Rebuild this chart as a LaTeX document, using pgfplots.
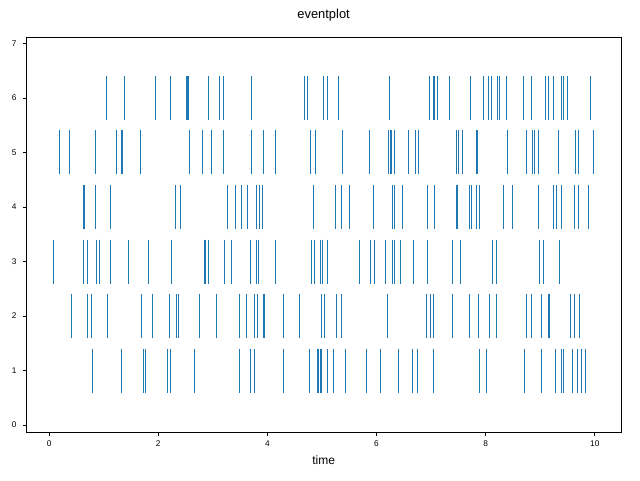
\documentclass[border=0pt]{standalone}
\usepackage{fontspec}
\setmainfont{Liberation Sans}
\usepackage{pgfplots}
\pgfplotsset{compat=1.18}
\definecolor{c0}{HTML}{1F77B4}

% one row of events: short vertical strokes
\tikzstyle{events}=[only marks, mark=|, mark size=16.5pt, color=c0,
  mark options={line width=0.75pt}]

\begin{document}
\begin{tikzpicture}
  % page = 640 x 480 px at 0.75pt per px
  \path[use as bounding box] (0,0) rectangle (480pt,360pt);
  \begin{axis}[%
    at={(19.7pt,35.5pt)}, anchor=south west,
    scale only axis,
    width=446pt, height=296.8pt,
    xmin=-0.42, xmax=10.48,
    ymin=-0.14, ymax=7.12,
    xtick={0,2,...,10},
    ytick={0,...,7},
    tick align=outside,
    major tick length=2.6pt,
    every tick/.style={black, line width=0.6pt},
    xtick pos=bottom, ytick pos=left,
    axis line style={black, line width=0.6pt},
    /pgf/number format/assume math mode=true,
    every tick label/.append style={font=\fontsize{6.2}{7}\selectfont},
    xticklabel style={anchor=base, yshift=-7.4pt},
    yticklabel style={anchor=east, xshift=-1.2pt},
    title={eventplot},
    title style={at={(0.5,1)}, anchor=base, yshift=7.7pt, font=\fontsize{9.7}{11}\selectfont},
    xlabel={time},
    xlabel style={at={(0.5,0)}, anchor=base, yshift=-24.2pt, font=\fontsize{9}{11}\selectfont},
    ]

    \addplot[events] coordinates {
      (0.801,1) (1.332,1) (1.735,1) (1.772,1) (2.162,1) (2.223,1) (2.669,1)
      (3.493,1) (3.695,1) (3.756,1) (4.299,1) (4.763,1) (4.910,1) (4.940,1)
      (4.975,1) (5.000,1) (5.105,1) (5.215,1) (5.435,1) (5.819,1) (6.070,1)
      (6.080,1) (6.405,1) (6.655,1) (6.753,1) (7.046,1) (7.887,1) (8.016,1)
      (8.712,1) (9.018,1) (9.286,1) (9.390,1) (9.427,1) (9.586,1) (9.683,1)
      (9.756,1) (9.836,1)
    };

    \addplot[events] coordinates {
      (0.417,2) (0.710,2) (0.783,2) (1.070,2) (1.699,2) (1.900,2) (2.211,2)
      (2.333,2) (2.363,2) (2.748,2) (3.071,2) (3.481,2) (3.609,2) (3.756,2)
      (3.817,2) (3.921,2) (3.945,2) (4.293,2) (4.586,2) (4.989,2) (5.044,2)
      (5.258,2) (5.367,2) (6.210,2) (6.918,2) (6.998,2) (7.046,2) (7.394,2)
      (7.706,2) (7.870,2) (8.066,2) (8.200,2) (8.756,2) (8.841,2) (9.018,2)
      (9.147,2) (9.165,2) (9.556,2) (9.623,2) (9.721,2)
    };

    \addplot[events] coordinates {
      (0.075,3) (0.624,3) (0.709,3) (0.874,3) (0.929,3) (1.118,3) (1.460,3)
      (1.826,3) (2.248,3) (2.840,3) (2.858,3) (2.913,3) (3.218,3) (3.346,3)
      (3.695,3) (3.793,3) (3.836,3) (4.147,3) (4.800,3) (4.867,3) (4.980,3)
      (5.010,3) (5.105,3) (5.685,3) (5.886,3) (5.966,3) (6.167,3) (6.301,3)
      (6.326,3) (6.442,3) (6.674,3) (6.937,3) (7.395,3) (7.548,3) (8.122,3)
      (8.207,3) (8.983,3) (9.068,3) (9.349,3)
    };

    \addplot[events] coordinates {
      (0.624,4) (0.648,4) (0.850,4) (1.118,4) (2.309,4) (2.413,4) (3.261,4)
      (3.408,4) (3.530,4) (3.634,4) (3.793,4) (3.848,4) (3.915,4) (4.843,4)
      (5.251,4) (5.355,4) (5.502,4) (5.947,4) (6.295,4) (6.332,4) (6.472,4)
      (6.930,4) (7.058,4) (7.473,4) (7.491,4) (7.711,4) (7.736,4) (7.834,4)
      (7.889,4) (8.320,4) (8.328,4) (8.336,4) (8.488,4) (8.970,4) (9.245,4)
      (9.300,4) (9.385,4) (9.636,4) (9.697,4) (9.880,4)
    };

    \addplot[events] coordinates {
      (0.190,5) (0.374,5) (0.844,5) (1.234,5) (1.320,5) (1.338,5) (1.680,5)
      (2.571,5) (2.815,5) (2.980,5) (3.188,5) (3.706,5) (3.926,5) (4.152,5)
      (4.787,5) (4.884,5) (5.380,5) (5.875,5) (6.228,5) (6.259,5) (6.277,5)
      (6.326,5) (6.588,5) (6.710,5) (6.771,5) (7.462,5) (7.510,5) (7.571,5)
      (7.838,5) (7.845,5) (8.396,5) (8.744,5) (8.860,5) (8.890,5) (8.964,5)
      (9.330,5) (9.654,5) (9.697,5) (9.984,5)
    };

    \addplot[events] coordinates {
      (1.051,6) (1.387,6) (1.943,6) (2.230,6) (2.517,6) (2.535,6) (2.553,6)
      (2.919,6) (3.120,6) (3.194,6) (3.706,6) (4.689,6) (4.731,6) (5.032,6)
      (5.093,6) (5.300,6) (6.247,6) (6.979,6) (7.048,6) (7.056,6) (7.119,6)
      (7.341,6) (7.717,6) (7.955,6) (8.059,6) (8.101,6) (8.211,6) (8.248,6)
      (8.376,6) (8.700,6) (8.846,6) (9.097,6) (9.152,6) (9.243,6) (9.396,6)
      (9.420,6) (9.506,6) (9.927,6)
    };
  \end{axis}
\end{tikzpicture}
\end{document}
